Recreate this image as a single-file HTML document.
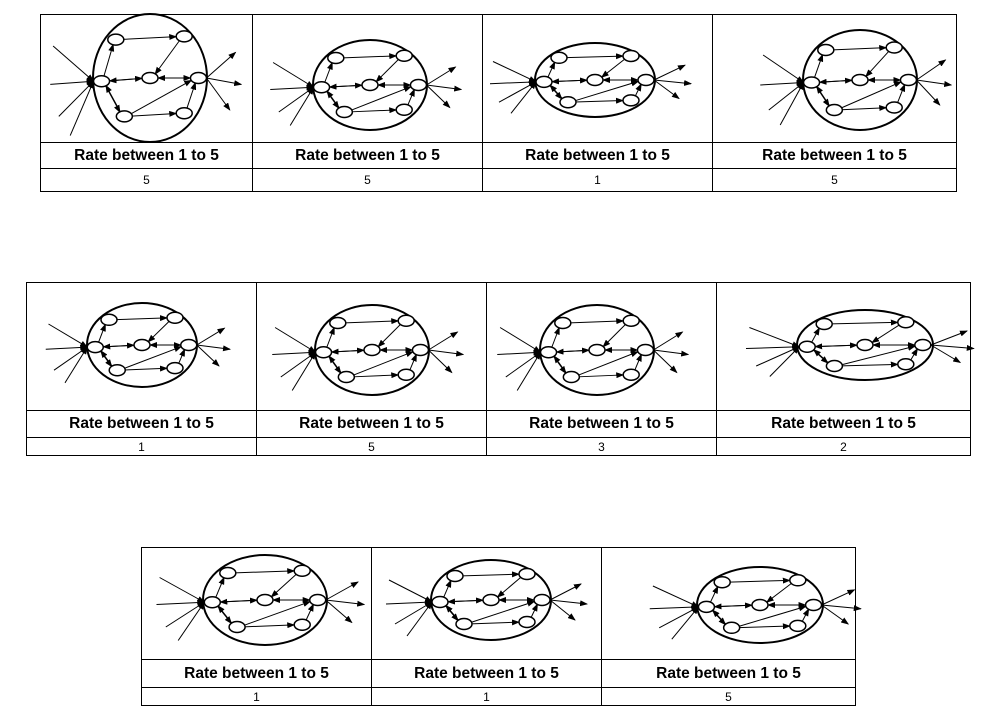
<!DOCTYPE html>
<html><head><meta charset="utf-8"><style>
body{margin:0;background:#fff;width:993px;height:720px;position:relative;overflow:hidden;font-family:"Liberation Sans",sans-serif}
table{position:absolute;border-collapse:collapse}
td{border:1px solid #000;padding:0;text-align:center}
td.lbl{font-weight:bold;font-size:15.5px}
td.val{font-size:12px}
svg{position:absolute;left:0;top:0}
</style></head><body>
<table style="left:40px;top:14px;width:917px">
<tr style="height:128px"><td style="width:211px"></td><td style="width:229px"></td><td style="width:229px"></td><td></td></tr>
<tr style="height:26px"><td class="lbl">Rate between 1 to 5</td><td class="lbl">Rate between 1 to 5</td><td class="lbl">Rate between 1 to 5</td><td class="lbl">Rate between 1 to 5</td></tr>
<tr style="height:23px"><td class="val">5</td><td class="val">5</td><td class="val">1</td><td class="val">5</td></tr>
</table>
<table style="left:26px;top:282px;width:945px">
<tr style="height:128px"><td style="width:229px"></td><td style="width:229px"></td><td style="width:229px"></td><td></td></tr>
<tr style="height:27px"><td class="lbl">Rate between 1 to 5</td><td class="lbl">Rate between 1 to 5</td><td class="lbl">Rate between 1 to 5</td><td class="lbl">Rate between 1 to 5</td></tr>
<tr style="height:18px"><td class="val">1</td><td class="val">5</td><td class="val">3</td><td class="val">2</td></tr>
</table>
<table style="left:141px;top:547px;width:715px">
<tr style="height:112px"><td style="width:229px"></td><td style="width:229px"></td><td></td></tr>
<tr style="height:28px"><td class="lbl">Rate between 1 to 5</td><td class="lbl">Rate between 1 to 5</td><td class="lbl">Rate between 1 to 5</td></tr>
<tr style="height:18px"><td class="val">1</td><td class="val">1</td><td class="val">5</td></tr>
</table>
<svg id="s" width="993" height="720">
<defs><marker id="a" markerWidth="8" markerHeight="6" refX="7" refY="3" orient="auto"><path d="M0,0L8,3L0,6z" fill="#000"/></marker></defs>
</svg>
<script>
const cx=[150,370,595,860,142,372,597,865,265,491,760];
const cy=[78,85,80,80,345,350,350,345,600,600,605];
const rx=[57,57,60,57,55,57,57,68,62,60,63];
const ry=[64,45,37,50,42,45,45,35,45,40,38];
const nodes=[[-0.6,-0.6],[0.6,-0.65],[-0.85,0.05],[0,0],[0.85,0],[-0.45,0.6],[0.6,0.55]];
const edges=[[0,1],[2,0],[3,2],[2,3],[5,2],[5,6],[6,4],[4,3],[1,3],[3,4],[5,4],[2,5]];
const s=document.getElementById('s');const NS='http://www.w3.org/2000/svg';
function mk(t,o){const e=document.createElementNS(NS,t);for(const k in o)e.setAttribute(k,o[k]);s.appendChild(e);return e;}
for(let i=0;i<cx.length;i++){
 const e=mk('ellipse',{cx:cx[i],cy:cy[i],rx:rx[i],ry:ry[i],fill:'none',stroke:'#000','stroke-width':2});
 
 
 const P=nodes.map(n=>[cx[i]+n[0]*rx[i],cy[i]+n[1]*ry[i]]);
 edges.forEach(([a,b])=>{const A=P[a],B=P[b];const dx=B[0]-A[0],dy=B[1]-A[1],L=Math.hypot(dx,dy);
  const l=mk('line',{x1:A[0]+dx/L*7,y1:A[1]+dy/L*5,x2:B[0]-dx/L*8,y2:B[1]-dy/L*5,stroke:'#000','stroke-width':1,'marker-end':'url(#a)'});
  
  });
 [[-1.7,-0.5],[-1.75,0.1],[-1.6,0.6],[-1.4,0.9]].forEach(o=>{const l=mk('line',{x1:cx[i]+o[0]*rx[i],y1:cy[i]+o[1]*ry[i],x2:P[2][0]-8,y2:P[2][1],stroke:'#000','stroke-width':1,'marker-end':'url(#a)'});
  
  });
 [[1.5,-0.4],[1.6,0.1],[1.4,0.5]].forEach(o=>{const l=mk('line',{x1:P[4][0]+8,y1:P[4][1],x2:cx[i]+o[0]*rx[i],y2:cy[i]+o[1]*ry[i],stroke:'#000','stroke-width':1,'marker-end':'url(#a)'});
  
  });
 P.forEach(p=>{const n=mk('ellipse',{cx:p[0],cy:p[1],rx:8,ry:5.5,fill:'#fff',stroke:'#000','stroke-width':1.5});
  
  });
}
</script>
</body></html>
